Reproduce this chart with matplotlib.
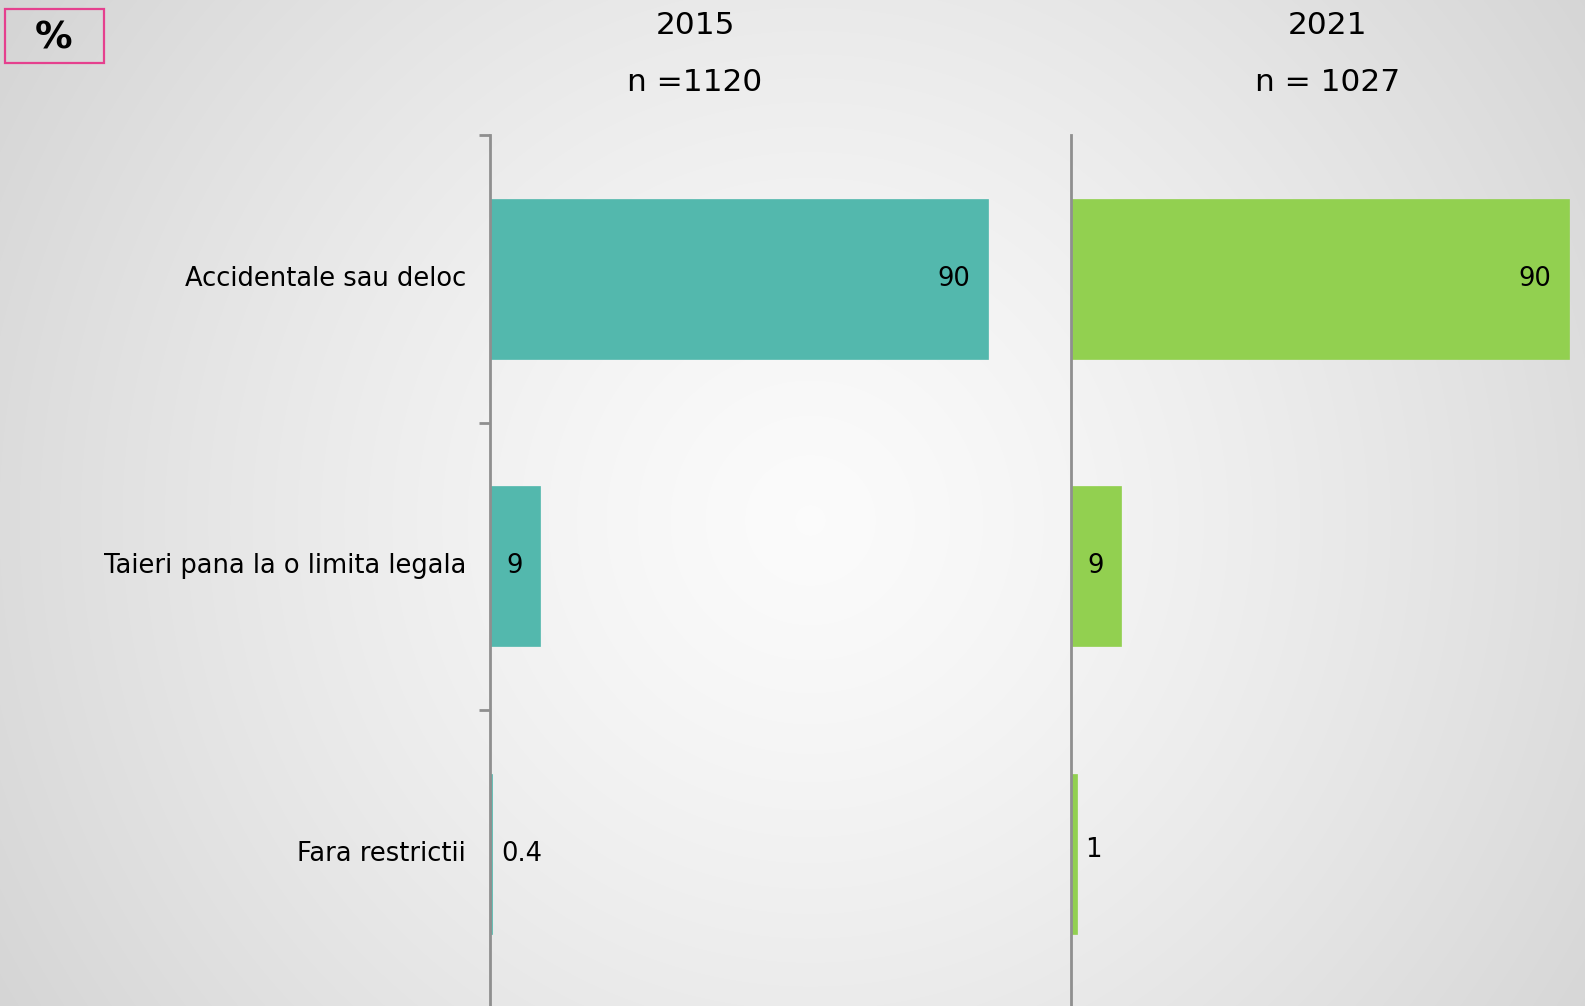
import numpy as np
import matplotlib.pyplot as plt
from matplotlib.patches import Rectangle

categories = ['Accidentale sau deloc', 'Taieri pana la o limita legala', 'Fara restrictii']
values_2015 = [90, 9, 0.4]
values_2021 = [90, 9, 1]
labels_2015 = ['90', '9', '0.4']
labels_2021 = ['90', '9', '1']
years = ['2015', '2021']
ns = ['n =1120', 'n = 1027']

W, H = 1585, 1006
fig = plt.figure(figsize=(W / 100, H / 100), dpi=100)

# radial gradient background
bg = fig.add_axes([0, 0, 1, 1])
yy, xx = np.mgrid[0:H, 0:W]
r = np.sqrt(((xx - 810) / 900.0) ** 2 + ((yy - 520) / 900.0) ** 2)
shade = 0.985 - 0.14 * np.clip(r, 0, 1.2) ** 1.3
bg.imshow(np.dstack([shade] * 3), extent=[0, W, H, 0], aspect='auto')
bg.set_xlim(0, W)
bg.set_ylim(H, 0)
bg.axis('off')

# % box
bg.add_patch(Rectangle((5, 9), 99, 54, fill=False, ec='#E5408E', lw=1.6))
bg.text(54, 38, '%', ha='center', va='center', fontsize=27, fontweight='bold')

px_per_unit = 5.53
top, bot = 135, 1006
cat_px = 287.5
y0 = -0.5
y1 = y0 + (bot - top) / cat_px


def panel(x_left, vals, labs, color, year, n, title_x, ticks):
    w = 100 * px_per_unit
    ax = fig.add_axes([x_left / W, 1 - bot / H, w / W, (bot - top) / H])
    ax.patch.set_alpha(0)
    y = np.arange(len(vals))
    ax.barh(y, vals, height=0.556, color=color, edgecolor=color, lw=0.5)
    ax.set_xlim(0, 100)
    ax.set_ylim(y1, y0)
    for s in ['top', 'right', 'bottom']:
        ax.spines[s].set_visible(False)
    ax.spines['left'].set_color('#8f8f8f')
    ax.spines['left'].set_linewidth(2)
    ax.set_xticks([])
    if ticks:
        ax.set_yticks([-0.5, 0.5, 1.5])
        ax.set_yticklabels([])
        ax.tick_params(axis='y', length=8, width=2, color='#8f8f8f')
        for i, c in enumerate(categories):
            ax.annotate(c, (0, i), xytext=(-24, 0), textcoords='offset pixels',
                        ha='right', va='center', fontsize=18.5)
    else:
        ax.set_yticks([])
    for i, (v, lb) in enumerate(zip(vals, labs)):
        if v >= 5:
            ax.annotate(lb, (v, i), xytext=(-17, 0), textcoords='offset pixels',
                        ha='right', va='center', fontsize=18.5)
        else:
            ax.annotate(lb, (v, i), xytext=(9, 4 if lb == '1' else 0), textcoords='offset pixels',
                        ha='left', va='center', fontsize=18.5)
    bg.text(title_x, 25, year, ha='center', va='center', fontsize=22.5)
    bg.text(title_x, 82, n, ha='center', va='center', fontsize=22.5)


panel(490, values_2015, labels_2015, '#53B8AD', years[0], ns[0], 695, True)
panel(1071, values_2021, labels_2021, '#92D050', years[1], ns[1], 1328, False)

fig.savefig('out.png', dpi=100)
